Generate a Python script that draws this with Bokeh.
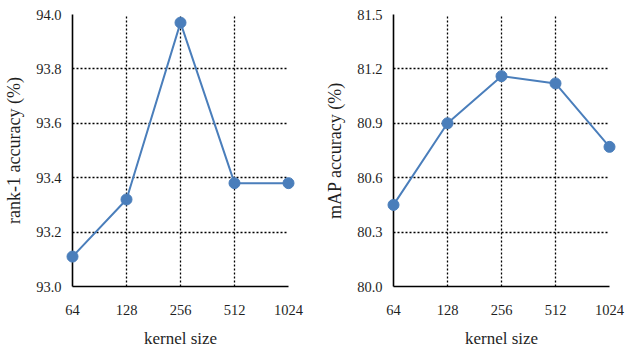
from bokeh.plotting import figure
from bokeh.layouts import row
from bokeh.models import Range1d, FixedTicker
from bokeh.embed import file_html
from bokeh.resources import INLINE

kernel_sizes = ["64", "128", "256", "512", "1024"]
rank1 = [93.11, 93.32, 93.97, 93.38, 93.38]
mAP = [80.45, 80.90, 81.16, 81.12, 80.77]
rank1_ticks = [93.0, 93.2, 93.4, 93.6, 93.8, 94.0]
mAP_ticks = [80.0, 80.3, 80.6, 80.9, 81.2, 81.5]

COLOR = "#4a7ebb"
FONT = "Liberation Serif"
TEXT = "#1f1f1f"


def make_panel(values, yticks, ylabel, width, border_left, border_right):
    xs = list(range(len(kernel_sizes)))
    p = figure(width=width, height=350, output_backend="svg", toolbar_location=None,
               x_range=Range1d(xs[0], xs[-1]), y_range=Range1d(yticks[0], yticks[-1]),
               min_border_left=border_left, min_border_right=border_right,
               min_border_top=14, min_border_bottom=58)
    p.outline_line_color = None
    p.background_fill_color = "white"
    p.border_fill_color = "white"

    p.xaxis.ticker = FixedTicker(ticks=xs)
    p.xaxis.major_label_overrides = {i: k for i, k in enumerate(kernel_sizes)}
    p.yaxis.ticker = FixedTicker(ticks=yticks)
    p.yaxis.major_label_overrides = {t: f"{t:.1f}" for t in yticks}

    for ax in (p.xaxis, p.yaxis):
        ax.axis_line_color = "black"
        ax.axis_line_width = 1.6
        ax.major_tick_out = 0
        ax.major_tick_in = 0
        ax.minor_tick_out = 0
        ax.minor_tick_in = 0
        ax.major_label_text_font = FONT
        ax.major_label_text_font_size = "14.5px"
        ax.major_label_text_color = TEXT
        ax.axis_label_text_font = FONT
        ax.axis_label_text_font_style = "normal"
        ax.axis_label_text_color = TEXT
    p.xaxis.axis_label_text_font_size = "17px"
    p.yaxis.axis_label_text_font_size = "18px"
    p.yaxis.major_label_standoff = 11
    p.xaxis.major_label_standoff = 18
    p.xaxis.axis_label = "kernel size"
    p.xaxis.axis_label_standoff = 11
    p.yaxis.axis_label = ylabel
    p.yaxis.axis_label_standoff = 9

    for g in (p.xgrid, p.ygrid):
        g.grid_line_color = "black"
        g.grid_line_dash = "2 2"
        g.grid_line_width = 1.3
        g.level = "annotation"
    p.xgrid.ticker = FixedTicker(ticks=xs)
    p.ygrid.ticker = FixedTicker(ticks=yticks)

    line = p.line(xs, values, line_color=COLOR, line_width=2)
    line.level = "overlay"
    pts = p.scatter(xs, values, size=11, fill_color=COLOR, line_color=COLOR)
    pts.level = "overlay"
    return p


left = make_panel(rank1, rank1_ticks, "rank-1 accuracy (%)", 320, 72, 32)
right = make_panel(mAP, mAP_ticks, "mAP accuracy (%)", 319, 73, 30)
layout = row(left, right)

open("out.html", "w").write(file_html(layout, INLINE))
